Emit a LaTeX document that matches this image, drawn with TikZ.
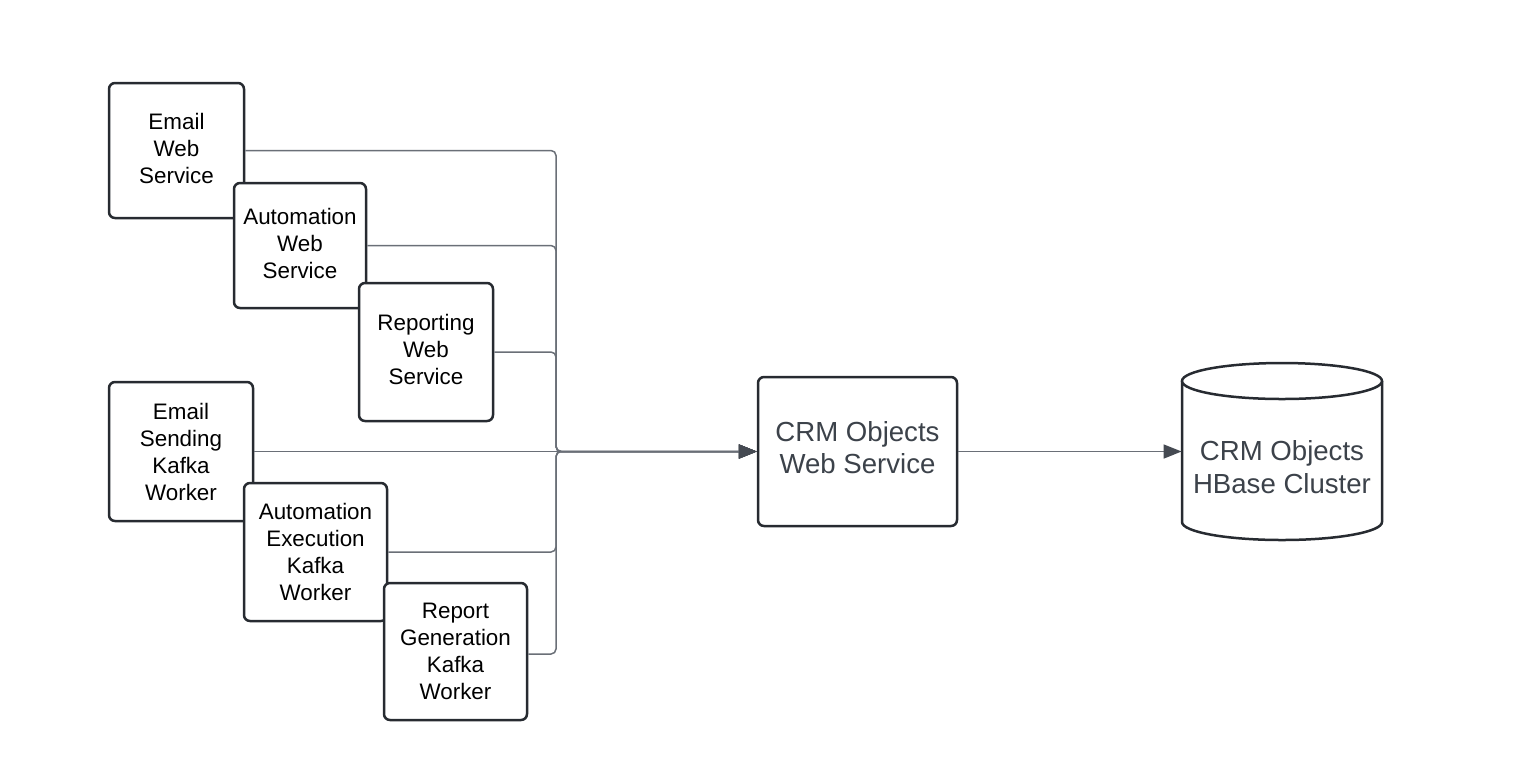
\documentclass[tikz,border=0pt]{standalone}
\usepackage{fontspec}
\setmainfont{Liberation Sans}
\usetikzlibrary{arrows.meta}
\definecolor{boxc}{HTML}{272B31}
\definecolor{connc}{HTML}{6A6F77}
\definecolor{tipc}{HTML}{454A52}
\definecolor{crmtext}{HTML}{3C424A}
\newcommand{\dropdepth}[1]{\rule[-#1]{0pt}{0pt}}
\begin{document}
\begin{tikzpicture}[x=0.5pt,y=-0.5pt,
  srcbox/.style={draw=boxc, line width=1.25pt, rounded corners=3pt, fill=white,
    align=center, inner sep=0pt, font=\fontsize{11.2pt}{13.5pt}\selectfont, text=black},
  bigbox/.style={draw=boxc, line width=1.25pt, rounded corners=3pt, fill=white,
    align=center, inner sep=0pt, font=\fontsize{13.8pt}{16.5pt}\selectfont, text=crmtext},
  conn/.style={draw=connc, line width=0.75pt, rounded corners=2.5pt},
  tipped/.style={-{Triangle[length=9pt,width=7pt,fill=tipc,color=tipc]}}
]
\useasboundingbox (0,0) rectangle (1526,768);

% source nodes (later ones overlap earlier ones)
\node[srcbox, minimum width=67.5pt, minimum height=67.5pt] (ews) at (176.5,150.5) {Email\\Web\\Service\dropdepth{2pt}};
\node[srcbox, minimum width=66pt, minimum height=62.5pt] (aws) at (300,245.5) {Automation\\Web\\Service\dropdepth{2pt}};
\node[srcbox, minimum width=67pt, minimum height=69pt] (rws) at (426,352) {Reporting\\Web\\Service\dropdepth{2.5pt}};
\node[srcbox, minimum width=72pt, minimum height=69.5pt] (esk) at (181,451.5) {Email\\Sending\\Kafka\\Worker};
\node[srcbox, minimum width=71.5pt, minimum height=69pt] (aek) at (315.5,552) {Automation\\Execution\\Kafka\\Worker};
\node[srcbox, minimum width=71.5pt, minimum height=68.5pt] (rgk) at (455.5,651.5) {Report\\Generation\\Kafka\\Worker};

% target nodes
\node[bigbox, minimum width=99.5pt, minimum height=74.5pt] (crm) at (857.5,451.5) {CRM Objects\\[-0.5pt]Web Service\dropdepth{4pt}};

% cylinder
\fill[white] (1182,381) -- (1182,522) arc[start angle=180, end angle=360, x radius=50pt, y radius=9pt] -- (1382,381) -- cycle;
\draw[boxc, line width=1.25pt] (1182,381) -- (1182,522) arc[start angle=180, end angle=360, x radius=50pt, y radius=9pt] -- (1382,381);
\draw[boxc, line width=1.25pt, fill=white] (1282,381) ellipse [x radius=50pt, y radius=9pt];
\node[align=center, inner sep=0pt, minimum width=100pt, font=\fontsize{13.8pt}{16.5pt}\selectfont, text=crmtext] (db) at (1282,467) {CRM Objects\\HBase Cluster};

% junction
\coordinate (j) at (556,451.5);

% connectors
\draw[conn, tipped] (ews.east) -| (j) -- (crm.west);
\draw[conn, tipped] (aws.east) -| (j) -- (crm.west);
\draw[conn, tipped] (rws.east) -| (j) -- (crm.west);
\draw[conn, tipped] (esk.east) -- (crm.west);
\draw[conn, tipped] (aek.east) -| (j) -- (crm.west);
\draw[conn, tipped] (rgk.east |- 0,654) -| (j) -- (crm.west);
\draw[conn, tipped] (crm.east) -- (crm.east -| db.west);
\end{tikzpicture}
\end{document}
